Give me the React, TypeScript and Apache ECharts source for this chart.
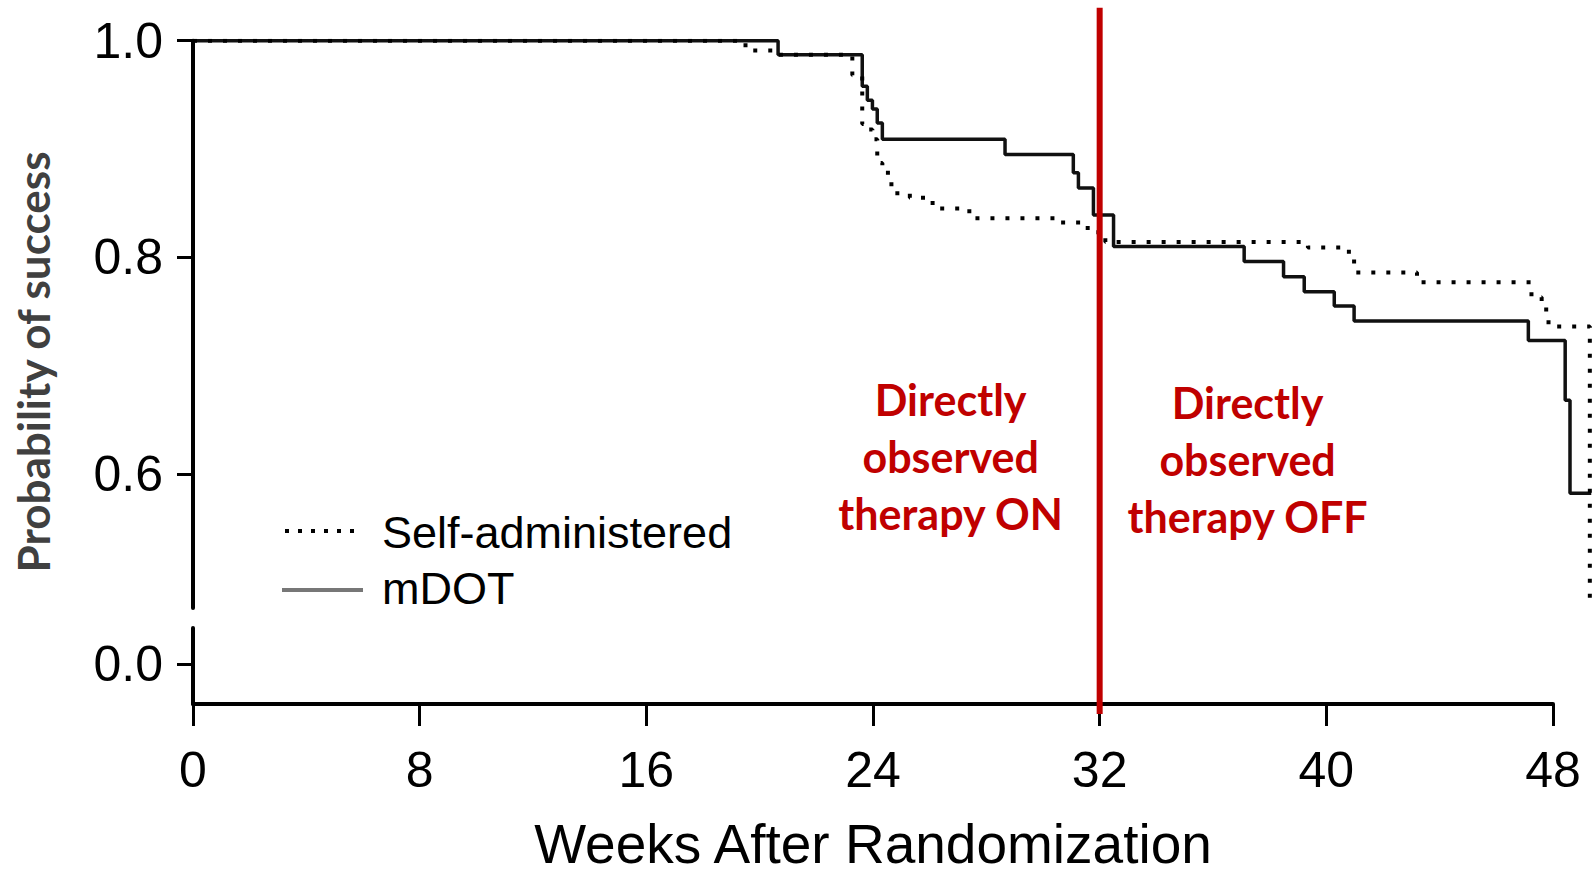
import React, { useEffect, useRef } from "react";
import * as echarts from "echarts";

// ---- Data ----
const xTicks = [0, 8, 16, 24, 32, 40, 48];
const yTopTicks = [0.6, 0.8, 1.0];
const yBottomTicks = [0.0];

const seriesNames = ["Self-administered", "mDOT"];

const selfWeeks = [0, 19.5, 20.65, 23.27, 23.62, 23.8, 23.98, 24.15, 24.33, 24.65, 25.3, 25.9, 26.3, 27.4, 30.6, 31.4, 31.8, 32.2, 39.35, 40.6, 40.98, 43.2, 47.24, 47.6, 47.76, 48.08, 49.3];
const selfProb = [1.0, 0.991, 0.987, 0.968, 0.923, 0.918, 0.909, 0.887, 0.878, 0.859, 0.855, 0.85, 0.845, 0.836, 0.832, 0.827, 0.823, 0.814, 0.809, 0.805, 0.786, 0.777, 0.763, 0.759, 0.74, 0.736, 0.483];

const mdotWeeks = [0, 20.65, 23.62, 23.8, 23.98, 24.15, 24.33, 28.66, 31.07, 31.25, 31.78, 32.49, 37.1, 38.49, 39.22, 40.28, 40.98, 47.13, 48.43, 48.6, 49.35];
const mdotProb = [1.0, 0.987, 0.958, 0.945, 0.937, 0.924, 0.909, 0.895, 0.878, 0.864, 0.839, 0.81, 0.796, 0.782, 0.768, 0.755, 0.741, 0.723, 0.668, 0.582, 0.582];

const boundaryWeek = 32;
const phaseLabels = ["Directly\nobserved\ntherapy ON", "Directly\nobserved\ntherapy OFF"];
const phaseLabelAnchors = [
  [26.74, 0.616],
  [37.22, 0.613],
];

const xTitle = "Weeks After Randomization";
const yTitle = "Probability of success";

export default function App() {
  const ref = useRef<HTMLDivElement>(null);

  useEffect(() => {
    const chart = echarts.init(ref.current!, null, { renderer: "svg" });
    const font = "'Liberation Sans', Arial, Helvetica, sans-serif";
    const pxPerWeek = 1360 / 48;

    chart.setOption({
      animation: false,
      backgroundColor: "#ffffff",
      grid: [
        { left: 193, top: 40.7, width: 49.4 * pxPerWeek, height: 567.3 },
        { left: 193, top: 628, width: 48 * pxPerWeek, height: 76 },
      ],
      xAxis: [
        { gridIndex: 0, type: "value", min: 0, max: 49.4, show: false },
        {
          gridIndex: 1,
          type: "value",
          min: 0,
          max: 48,
          interval: 8,
          axisLine: { show: true, onZero: false, lineStyle: { color: "#000", width: 4 } },
          axisTick: { show: true, length: 22, lineStyle: { color: "#000", width: 3 }, customValues: xTicks },
          axisLabel: {
            customValues: xTicks,
            fontSize: 50,
            color: "#000",
            fontFamily: font,
            margin: 41,
          },
          splitLine: { show: false },
          name: xTitle,
          nameLocation: "middle",
          nameGap: 112,
          nameTextStyle: { fontSize: 55, color: "#000", fontFamily: font },
        },
      ],
      yAxis: [
        {
          gridIndex: 0,
          type: "value",
          min: 0.476,
          max: 1.0,
          axisLine: { show: true, onZero: false, lineStyle: { color: "#000", width: 4 } },
          axisTick: { show: true, length: 16, lineStyle: { color: "#000", width: 3 }, customValues: yTopTicks },
          axisLabel: {
            customValues: yTopTicks,
            formatter: (v: number) => v.toFixed(1),
            fontSize: 50,
            color: "#000",
            fontFamily: font,
            margin: 30,
          },
          splitLine: { show: false },
        },
        {
          gridIndex: 1,
          type: "value",
          min: -0.4,
          max: 0.36,
          axisLine: { show: true, onZero: false, lineStyle: { color: "#000", width: 4 } },
          axisTick: { show: true, length: 16, lineStyle: { color: "#000", width: 3 }, customValues: yBottomTicks },
          axisLabel: {
            customValues: yBottomTicks,
            formatter: (v: number) => v.toFixed(1),
            fontSize: 50,
            color: "#000",
            fontFamily: font,
            margin: 30,
          },
          splitLine: { show: false },
        },
      ],
      series: [
        {
          name: seriesNames[1],
          type: "line",
          xAxisIndex: 0,
          yAxisIndex: 0,
          step: "end",
          symbol: "none",
          data: mdotWeeks.map((w, i) => [w, mdotProb[i]]),
          lineStyle: { color: "#111", width: 3.5 },
          z: 3,
        },
        {
          name: seriesNames[0],
          type: "line",
          xAxisIndex: 0,
          yAxisIndex: 0,
          step: "end",
          symbol: "none",
          data: selfWeeks.map((w, i) => [w, selfProb[i]]),
          lineStyle: { color: "#000", width: 4, type: [4, 11], cap: "butt" },
          z: 4,
        },
        {
          type: "line",
          xAxisIndex: 1,
          yAxisIndex: 1,
          data: [],
          silent: true,
        },
      ],
    });

    const top = chart.convertToPixel({ gridIndex: 0 }, [boundaryWeek, 1.0]) as number[];
    const bottom = chart.convertToPixel({ gridIndex: 1 }, [boundaryWeek, -0.4]) as number[];
    const labelPos = phaseLabelAnchors.map((p) => chart.convertToPixel({ gridIndex: 0 }, p) as number[]);

    chart.setOption({
      graphic: [
        {
          type: "line",
          z: 100,
          shape: { x1: top[0], y1: top[1] - 33, x2: bottom[0], y2: bottom[1] + 10 },
          style: { stroke: "#C00000", lineWidth: 6 },
        },
        ...phaseLabels.map((t, i) => ({
          type: "text",
          z: 100,
          x: labelPos[i][0],
          y: labelPos[i][1],
          style: {
            text: t,
            fontSize: 43,
            fontWeight: "bold",
            fontFamily: "Lato, 'Open Sans', sans-serif",
            fill: "#C00000",
            lineHeight: 57,
            align: "center",
            verticalAlign: "middle",
          },
        })),
        {
          type: "line",
          z: 100,
          shape: { x1: 285, y1: 531, x2: 363, y2: 531 },
          style: { stroke: "#000", lineWidth: 4, lineDash: [4, 9] },
        },
        {
          type: "line",
          z: 100,
          shape: { x1: 282, y1: 590, x2: 363, y2: 590 },
          style: { stroke: "#777", lineWidth: 4 },
        },
        {
          type: "text",
          z: 100,
          x: 382,
          y: 532,
          style: {
            text: seriesNames[0],
            fontSize: 45,
            fontFamily: font,
            fill: "#000",
            align: "left",
            verticalAlign: "middle",
          },
        },
        {
          type: "text",
          z: 100,
          x: 382,
          y: 588,
          style: {
            text: seriesNames[1],
            fontSize: 45,
            fontFamily: font,
            fill: "#000",
            align: "left",
            verticalAlign: "middle",
          },
        },
        {
          type: "text",
          z: 100,
          x: 33,
          y: 362,
          rotation: Math.PI / 2,
          style: {
            text: yTitle,
            fontSize: 44,
            fontWeight: "bold",
            fontFamily: "Lato, 'Open Sans', sans-serif",
            fill: "#404040",
            align: "center",
            verticalAlign: "middle",
          },
        },
      ],
    });

    return () => {
      chart.dispose();
    };
  }, []);

  return (
    <div
      ref={ref}
      style={{ position: "fixed", left: 0, top: 0, width: 1594, height: 873, background: "#fff" }}
    />
  );
}
